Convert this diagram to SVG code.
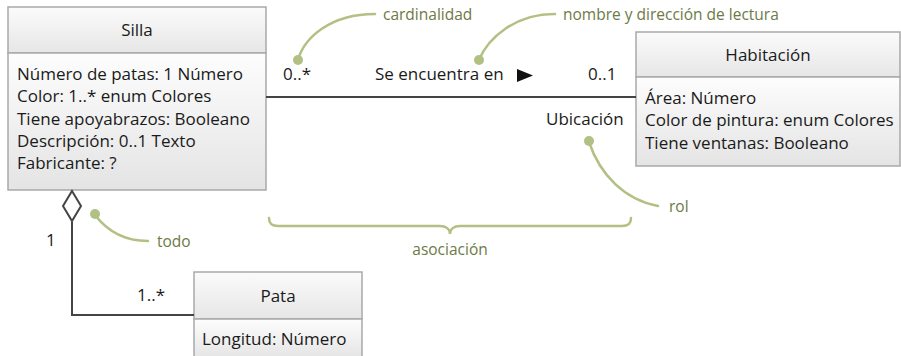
<svg xmlns="http://www.w3.org/2000/svg" width="901" height="356" viewBox="0 0 901 356">
<defs>
<linearGradient id="hdr" x1="0" y1="0" x2="0" y2="1"><stop offset="0" stop-color="#fbfbfb"/><stop offset="1" stop-color="#e6e6e6"/></linearGradient>
<linearGradient id="bdy" x1="0" y1="0" x2="0" y2="1"><stop offset="0" stop-color="#fdfdfd"/><stop offset="1" stop-color="#e4e4e4"/></linearGradient>
<style>
.box{stroke:#a9a9a9;stroke-width:1.5}
.h{fill:url(#hdr)}
.b{fill:url(#bdy)}
.t{font-family:"Open Sans","Noto Sans",sans-serif;font-size:17px;fill:#1a1a1a}
.g{font-family:"Open Sans","Noto Sans",sans-serif;font-size:15.5px;fill:#6d7a45}
.ln{stroke:#444;stroke-width:2;fill:none}
.an{stroke:#b3c084;stroke-width:2.5;fill:none;stroke-linecap:round}
.dot{fill:#b3c084}
</style>
</defs>
<rect width="901" height="356" fill="#fff"/>
<g id="silla">
<rect class="box h" x="8" y="7" width="258" height="46"/>
<rect class="box b" x="8" y="53" width="258" height="137"/>
<text class="t" x="137" y="36" text-anchor="middle">Silla</text>
<text class="t" x="17" y="80" textLength="226">Número de patas: 1 Número</text>
<text class="t" x="17" y="102">Color: 1..* enum Colores</text>
<text class="t" x="17" y="125">Tiene apoyabrazos: Booleano</text>
<text class="t" x="17" y="147">Descripción: 0..1 Texto</text>
<text class="t" x="17" y="169">Fabricante: ?</text>
</g>
<g id="habitacion">
<rect class="box h" x="636" y="32" width="264" height="45"/>
<rect class="box b" x="636" y="77" width="264" height="89"/>
<text class="t" x="768" y="61" text-anchor="middle">Habitación</text>
<text class="t" x="645" y="104">Área: Número</text>
<text class="t" x="645" y="126">Color de pintura: enum Colores</text>
<text class="t" x="645" y="149">Tiene ventanas: Booleano</text>
</g>
<g id="pata">
<rect class="box h" x="194" y="272" width="168" height="47"/>
<rect class="box b" x="194" y="319" width="168" height="40"/>
<text class="t" x="278" y="302" text-anchor="middle">Pata</text>
<text class="t" x="202" y="345">Longitud: Número</text>
</g>
<g id="connectors">
<line class="ln" x1="266" y1="97" x2="636" y2="97"/>
<text class="t" x="283" y="80">0..*</text>
<text class="t" x="375" y="80">Se encuentra en</text>
<polygon points="517,69 533,75.5 517,82" fill="#111"/>
<text class="t" x="588" y="80">0..1</text>
<text class="t" x="546" y="125">Ubicación</text>
<polyline class="ln" points="72,222 72,315 194,315"/>
<polygon points="72,191 81,206 72,221 63,206" fill="#fff" stroke="#444" stroke-width="2"/>
<text class="t" x="46" y="246">1</text>
<text class="t" x="137" y="301">1..*</text>
</g>
<g id="annotations">
<path class="an" d="M298,60 C304,38 330,14 375,14"/>
<circle class="dot" cx="298" cy="60" r="5"/>
<text class="g" x="383" y="20">cardinalidad</text>
<path class="an" d="M479,60 C488,38 515,14 555,14"/>
<circle class="dot" cx="479" cy="60" r="5"/>
<text class="g" x="563" y="20">nombre y dirección de lectura</text>
<path class="an" d="M589,142 C600,175 625,200 658,206"/>
<circle class="dot" cx="589" cy="141" r="5"/>
<text class="g" x="669" y="212">rol</text>
<path class="an" d="M95,215 C108,232 125,241 148,241"/>
<circle class="dot" cx="95" cy="214" r="5"/>
<text class="g" x="157" y="247">todo</text>
<path class="an" d="M269,218 C269,224 272,226 278,226 L440,226 C446,226 450,229 450,234 C450,229 454,226 460,226 L622,226 C628,226 631,224 631,218"/>
<text class="g" x="450" y="255" text-anchor="middle">asociación</text>
</g>
</svg>
